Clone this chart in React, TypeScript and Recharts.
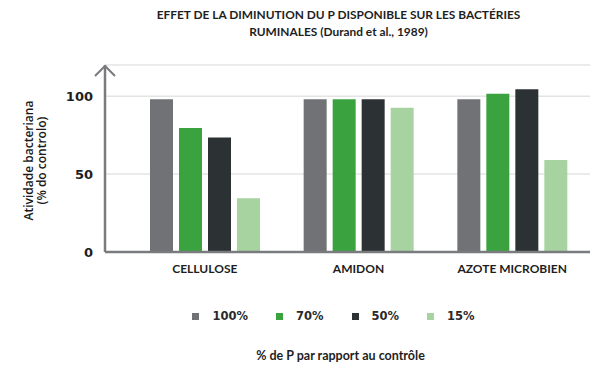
import React from 'react';
import { BarChart, Bar, XAxis, YAxis, CartesianGrid } from 'recharts';

const categories = ['CELLULOSE', 'AMIDON', 'AZOTE MICROBIEN'];
const p100 = [98, 98, 98];
const p70 = [79.5, 98, 101.5];
const p50 = [73.5, 98, 104.5];
const p15 = [34.5, 92.5, 59];
const yTicks = [0, 50, 100];

const SERIES = [
  { key: 'p100', name: '100%', color: '#717276' },
  { key: 'p70', name: '70%', color: '#3aa33f' },
  { key: 'p50', name: '50%', color: '#2c3234' },
  { key: 'p15', name: '15%', color: '#a7d3a0' },
];

const data = categories.map((name, i) => ({
  name,
  p100: p100[i],
  p70: p70[i],
  p50: p50[i],
  p15: p15[i],
}));

const TEXT_FONT = 'Lato, "Open Sans", sans-serif';
const NUM_FONT = '"DejaVu Sans", sans-serif';

// y label + arrow head on top of the axis line
const YAxisDecor = ({ viewBox }: any) => {
  const { x, y, width, height } = viewBox;
  const ax = x + width;
  const cy = y + height / 2 + 2;
  return (
    <g>
      <polyline
        points={`${ax - 10},${y + 11} ${ax},${y + 1} ${ax + 10},${y + 11}`}
        fill="none"
        stroke="#7a7b7e"
        strokeWidth={2}
      />
      <text
        transform={`translate(28, ${cy}) rotate(-90)`}
        textAnchor="middle"
        dominantBaseline="central"
        fontFamily='"Open Sans", sans-serif'
        fontWeight={600}
        fontSize={12}
        fill="#1a1a1a"
      >
        Atividade bacteriana
      </text>
      <text
        transform={`translate(41, ${cy}) rotate(-90)`}
        textAnchor="middle"
        dominantBaseline="central"
        fontFamily='"Open Sans", sans-serif'
        fontWeight={600}
        fontSize={12}
        fill="#1a1a1a"
      >
        (% do controlo)
      </text>
    </g>
  );
};

const ChartLegend = () => (
  <div
    style={{
      position: 'absolute',
      left: 0,
      top: 309,
      width: 605,
      display: 'flex',
      justifyContent: 'center',
      paddingLeft: 90,
      boxSizing: 'border-box',
    }}
  >
    {SERIES.map((s) => (
      <div key={s.key} style={{ display: 'flex', alignItems: 'center', marginRight: 28 }}>
        <span style={{ width: 7, height: 7, background: s.color, display: 'inline-block', marginRight: 13 }} />
        <span style={{ fontFamily: NUM_FONT, fontWeight: 700, fontSize: 11.5, color: '#2a2a2a' }}>{s.name}</span>
      </div>
    ))}
  </div>
);

export default function App() {
  return (
    <div style={{ position: 'absolute', left: 0, top: 0, width: 605, height: 368, background: '#fff' }}>
      <div
        style={{
          position: 'absolute',
          left: 0,
          top: 6,
          width: 605,
          paddingLeft: 72,
          boxSizing: 'border-box',
          textAlign: 'center',
          fontFamily: TEXT_FONT,
          fontWeight: 700,
          fontSize: 11.9,
          lineHeight: '17px',
          color: '#1e1e1e',
        }}
      >
        EFFET DE LA DIMINUTION DU P DISPONIBLE SUR LES BACTÉRIES
        <br />
        RUMINALES (Durand et al., 1989)
      </div>
      <BarChart
        width={605}
        height={368}
        data={data}
        margin={{ top: 65, right: 15, bottom: 86, left: 0 }}
        barSize={23}
        barGap={6}
      >
        <CartesianGrid vertical={false} stroke="#e4e4e4" strokeWidth={1.5} />
        <XAxis
          dataKey="name"
          height={30}
          padding={{ left: 23, right: 1 }}
          axisLine={{ stroke: '#7a7b7e', strokeWidth: 2.5 }}
          tickLine={false}
          tickSize={0}
          tickMargin={12}
          tick={{ fontFamily: TEXT_FONT, fontWeight: 700, fontSize: 12, fill: '#1e1e1e' }}
          interval={0}
        />
        <YAxis
          width={105}
          domain={[0, 120]}
          ticks={yTicks}
          axisLine={{ stroke: '#7a7b7e', strokeWidth: 2.5 }}
          tickLine={false}
          tickSize={0}
          tickMargin={12}
          tick={{ fontFamily: NUM_FONT, fontWeight: 700, fontSize: 13, fill: '#1e1e1e' }}
          label={<YAxisDecor />}
        />
        {SERIES.map((s) => (
          <Bar key={s.key} dataKey={s.key} name={s.name} fill={s.color} isAnimationActive={false} />
        ))}
      </BarChart>
      <ChartLegend />
      <div
        style={{
          position: 'absolute',
          left: 0,
          top: 348,
          width: 605,
          paddingLeft: 76,
          boxSizing: 'border-box',
          textAlign: 'center',
          fontFamily: TEXT_FONT,
          fontWeight: 700,
          fontSize: 12.5,
          color: '#1e1e1e',
        }}
      >
        % de P par rapport au contrôle
      </div>
    </div>
  );
}
